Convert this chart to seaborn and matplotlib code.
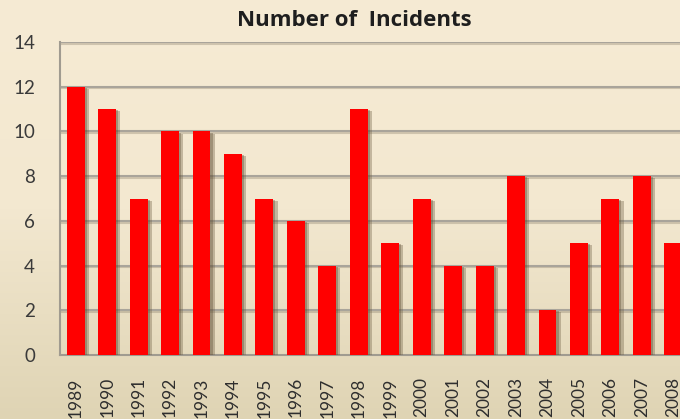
import numpy as np
import pandas as pd
import matplotlib
matplotlib.use("Agg")
import matplotlib.pyplot as plt
import matplotlib.patheffects as pe
import seaborn as sns

years = [str(y) for y in range(1989, 2009)]
incidents = [12, 11, 7, 10, 10, 9, 7, 6, 4, 11, 5, 7, 4, 4, 8, 2, 5, 7, 8, 5]
yticks = [0, 2, 4, 6, 8, 10, 12, 14]

df = pd.DataFrame({"year": years, "incidents": incidents})

sns.set_style("white")
plt.rcParams['font.family'] = ['Lato', 'DejaVu Sans']

fig = plt.figure(figsize=(6.8, 4.19), dpi=100)

# cream gradient background
bg = fig.add_axes([0, 0, 1, 1], zorder=-2)
grad = np.linspace(0, 1, 256).reshape(-1, 1)
cmap = matplotlib.colors.LinearSegmentedColormap.from_list("bg", ["#F6EBD4", "#F3E8D0", "#DFD4B4"])
bg.imshow(grad, aspect="auto", cmap=cmap, extent=[0, 1, 0, 1])
bg.axis("off")

ax = fig.add_axes([60 / 680, 64 / 419, 629 / 680, 313 / 419])
ax.set_facecolor("none")

sns.barplot(data=df, x="year", y="incidents", color="#FF0000", saturation=1,
            width=0.57, ax=ax, zorder=3, edgecolor="none")
for p in ax.patches:
    p.set_path_effects([pe.SimplePatchShadow(offset=(3, -1.5), shadow_rgbFace="#6a5a40", alpha=0.35),
                        pe.SimplePatchShadow(offset=(1.5, -0.8), shadow_rgbFace="#5a4a30", alpha=0.35),
                        pe.Normal()])

ax.set_xlim(-0.5, len(years) - 0.5)
ax.set_ylim(0, 14)
ax.set_yticks(yticks)
ax.set_yticklabels([str(v) for v in yticks])

grid_fx = [pe.SimpleLineShadow(offset=(0, -1.2), shadow_color="#8a7f6a", alpha=0.35), pe.Normal()]
for v in yticks[1:]:
    ax.axhline(v, color="#A9A49A", lw=1.5, zorder=1, path_effects=grid_fx)

for s in ["top", "right"]:
    ax.spines[s].set_visible(False)
for s in ["left", "bottom"]:
    ax.spines[s].set_color("#A09B90")
    ax.spines[s].set_linewidth(1.5)

# ticks between categories, labels at centers
ax.set_xticks(np.arange(-0.5, len(years), 1), minor=True)
ax.tick_params(axis="x", which="major", length=0, pad=16, labelrotation=90,
               labelsize=12.5, labelcolor="#2E2E2E")
ax.tick_params(axis="x", which="minor", length=7, width=1.4, color="#A09B90")
ax.tick_params(axis="y", which="major", length=7, width=1.4, color="#A09B90",
               pad=11, labelsize=13.5, labelcolor="#3A3A3A")
for t in ax.get_xticklabels():
    t.set_va("top")

ax.set_xlabel("")
ax.set_ylabel("")

fig.text(354 / 680, 1 - 20 / 419, "Number of  Incidents", ha="center", va="center",
         fontsize=16, fontweight="bold", color="#1E1E1E", family=["Open Sans", "DejaVu Sans"])

plt.savefig("out.png", dpi=100)
